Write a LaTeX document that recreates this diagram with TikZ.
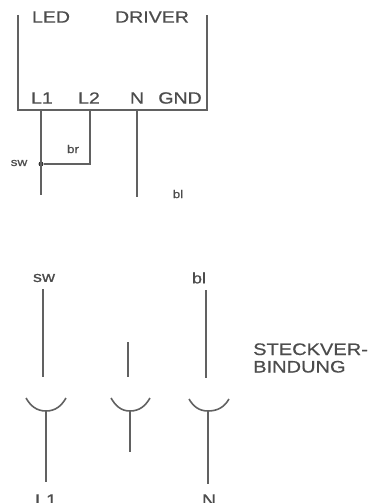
\documentclass[tikz,border=0pt]{standalone}
\usepackage{fontspec}
\setmainfont[FakeStretch=1.2,FakeBold=0.5]{Liberation Sans}
\usepackage{xcolor}
\usepackage{tikz}
\usetikzlibrary{arrows.meta, positioning, calc}
\definecolor{wirecol}{gray}{0.38}
\definecolor{labelcol}{gray}{0.3}

\begin{document}
\begin{tikzpicture}[
				x=1pt, y=1pt,
				wire/.style={draw=wirecol, line width=1.6pt},
				thinwire/.style={draw=wirecol, line width=1.2pt},
				term/.style={font=\fontsize{16.3}{17}\selectfont, text=labelcol, inner sep=0pt},
				small/.style={font=\fontsize{11.3}{12}\selectfont, text=labelcol, inner sep=0pt},
				mid/.style={font=\fontsize{15}{16}\selectfont, text=labelcol, inner sep=0pt}
				]
				\useasboundingbox (0,0) rectangle (373,-503);
				% driver box
				\node[term] (led) at (51,-17) {LED};
				\node[term] (driver) at (152,-17) {DRIVER};
				\node[term] (l1) at (42,-98) {L1};
				\node[term] (l2) at (89,-98) {L2};
				\node[term] (n) at (137,-98) {N};
				\node[term] (gnd) at (180,-98) {GND};
				\coordinate (boxtl) at (18,-15);
				\coordinate (boxbl) at (18,-110);
				\coordinate (boxbr) at (207,-110);
				\coordinate (boxtr) at (207,-15);
				\draw[wire] (boxtl) -- (boxbl) -- (boxbr) -- (boxtr);
				% wires under the box
				\coordinate (l1top) at (41,-110);
				\coordinate (l1end) at (41,-195);
				\coordinate (l2top) at (90,-110);
				\coordinate (l2bend) at (90,-164);
				\coordinate (ntop) at (137,-110);
				\coordinate (nend) at (137,-197);
				\node[circle, fill=black!80, inner sep=0pt, minimum size=5pt] (joint) at (41,-164) {};
				\draw[wire] (l1top) -- (l1end);
				\draw[wire] (l2top) -- (l2bend) -- (joint);
				\draw[wire] (ntop) -- (nend);
				\node[small] (br) at (73,-149) {br};
				\node[small] (swa) at (19,-163) {sw};
				\node[small] (bla) at (178,-194) {bl};
				% plug
				\node[mid] (swb) at (44,-278) {sw};
				\node[mid] (blb) at (199,-278) {bl};
				\node[anchor=west, align=left, inner sep=0pt, text=labelcol, font=\fontsize{16.7}{17.5}\selectfont] (steck) at (253,-358) {STECKVER-\\BINDUNG};
				\node[term] (l1b) at (46,-500) {L1};
				\node[term] (nb) at (209,-500) {N};
				\coordinate (pinatop) at (43,-289);
				\coordinate (pinaend) at (43,-377);
				\coordinate (pinbtop) at (128,-342);
				\coordinate (pinbend) at (128,-377);
				\coordinate (pinctop) at (206,-290);
				\coordinate (pincend) at (206,-378);
				\draw[wire] (pinatop) -- (pinaend);
				\draw[wire] (pinbtop) -- (pinbend);
				\draw[thinwire] (pinctop) -- (pincend);
				% sockets
				\coordinate (cupal) at (26,-398);
				\coordinate (cupab) at (46,-411);
				\coordinate (cupar) at (66,-398);
				\coordinate (cupbl) at (111,-398);
				\coordinate (cupbb) at (130,-411);
				\coordinate (cupbr) at (150,-398);
				\coordinate (cupcl) at (189,-399);
				\coordinate (cupcb) at (208,-411);
				\coordinate (cupcr) at (229,-399);
				\coordinate (stemaend) at (46,-482);
				\coordinate (stembend) at (130,-452);
				\coordinate (stemcend) at (208,-484);
				\draw[wire] (cupal) to[out=-60,in=180] (cupab) to[out=0,in=-120] (cupar);
				\draw[wire] (cupbl) to[out=-60,in=180] (cupbb) to[out=0,in=-120] (cupbr);
				\draw[wire] (cupcl) to[out=-60,in=180] (cupcb) to[out=0,in=-120] (cupcr);
				\draw[wire] (cupab) -- (stemaend);
				\draw[wire] (cupbb) -- (stembend);
				\draw[wire] (cupcb) -- (stemcend);
			\end{tikzpicture}
\end{document}
